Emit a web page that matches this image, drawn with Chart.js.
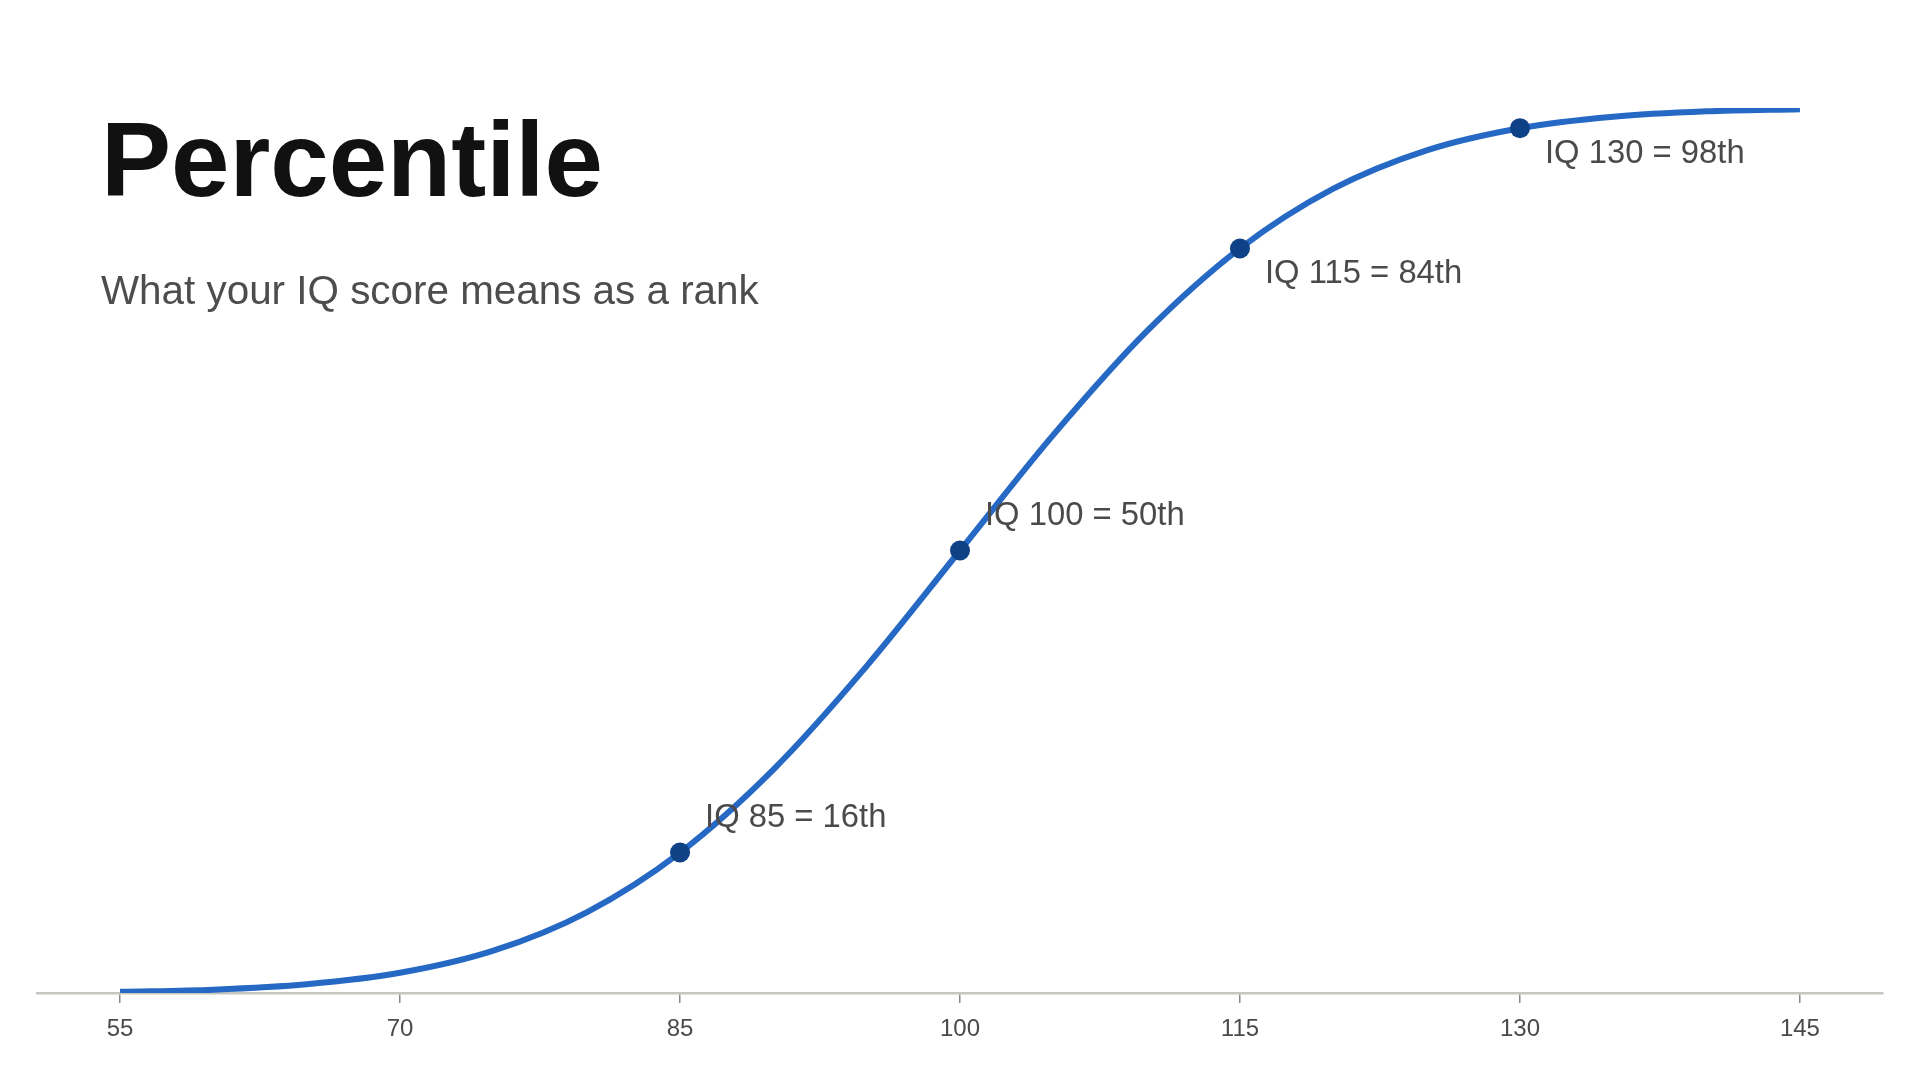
<!DOCTYPE html>
<html>
<head>
<meta charset="utf-8">
<script src="https://cdn.jsdelivr.net/npm/chart.js@4.4.1/dist/chart.umd.min.js"></script>
<style>
  body { margin: 0; background: #fff; }
  #wrap { position: relative; width: 1920px; height: 1080px; }
  .titulo {
    position: absolute; left: 101px; top: 107px; margin: 0;
    font: bold 105px/1 "Liberation Sans", Arial, sans-serif; color: #111;
  }
  .subtitulo {
    position: absolute; left: 101px; top: 270px; margin: 0;
    font: 40.4px/1 "Liberation Sans", Arial, sans-serif; color: #4d4d4d;
  }
</style>
</head>
<body>
<div id="wrap">
  <canvas id="graficoPercentil"></canvas>
  <h1 class="titulo">Percentile</h1>
  <p class="subtitulo">What your IQ score means as a rank</p>
</div>
<script>
// curva (QI -> percentil)
const iqScores = [55, 60, 65, 70, 75, 80, 85, 90, 95, 100, 105, 110, 115, 120, 125, 130, 135, 140, 145];
const percentiles = [0.13, 0.38, 0.99, 2.28, 4.78, 9.12, 15.87, 25.25, 36.94, 50, 63.06, 74.75, 84.13, 90.88, 95.22, 97.72, 99.01, 99.62, 99.87];

// pontos marcados
const markedIQ = [85, 100, 115, 130];
const markedPct = [15.87, 50, 84.13, 97.72];
const markLabels = ['IQ 85 = 16th', 'IQ 100 = 50th', 'IQ 115 = 84th', 'IQ 130 = 98th'];

const xTicks = [55, 70, 85, 100, 115, 130, 145];

const pointLabels = {
  id: 'pointLabels',
  afterDatasetsDraw(chart) {
    const { ctx, scales: { x, y } } = chart;
    ctx.save();
    ctx.font = '32.8px "Liberation Sans", Arial, sans-serif';
    ctx.fillStyle = '#4a4a4a';
    ctx.textBaseline = 'alphabetic';
    markedIQ.forEach((iq, i) => {
      const px = x.getPixelForValue(iq);
      const py = y.getPixelForValue(markedPct[i]);
      const dy = markedPct[i] > 60 ? 35 : -26;
      ctx.fillText(markLabels[i], px + 25, py + dy);
    });
    ctx.restore();
  }
};

new Chart(document.getElementById('graficoPercentil'), {
  type: 'line',
  data: {
    datasets: [
      {
        label: 'marcados',
        data: markedIQ.map((v, i) => ({ x: v, y: markedPct[i] })),
        showLine: false,
        pointRadius: 10,
        pointBackgroundColor: '#0e4186',
        pointBorderWidth: 0,
        order: 0
      },
      {
        label: 'Percentile',
        data: iqScores.map((v, i) => ({ x: v, y: percentiles[i] })),
        borderColor: '#2669c4',
        borderWidth: 6,
        cubicInterpolationMode: 'monotone',
        pointRadius: 0,
        fill: false,
        order: 1
      }
    ]
  },
  options: {
    responsive: true,
    maintainAspectRatio: false,
    animation: false,
    layout: { padding: { left: 37, right: 37, top: 108, bottom: 0 } },
    plugins: {
      legend: { display: false },
      tooltip: { enabled: false }
    },
    scales: {
      x: {
        type: 'linear',
        min: 50.55,
        max: 149.45,
        afterBuildTicks: s => { s.ticks = xTicks.map(v => ({ value: v })); },
        afterFit: s => { s.height = 87; },
        grid: { drawOnChartArea: false, drawTicks: true, tickLength: 10, color: '#8a8a8a', lineWidth: 1.5 },
        border: { display: true, color: '#c6c6bf', width: 2.5 },
        ticks: {
          color: '#4a4a4a',
          padding: 12,
          maxRotation: 0,
          font: { family: '"Liberation Sans", Arial, sans-serif', size: 24 }
        }
      },
      y: { display: false, min: 0, max: 100 }
    }
  },
  plugins: [pointLabels]
});
</script>
</body>
</html>
